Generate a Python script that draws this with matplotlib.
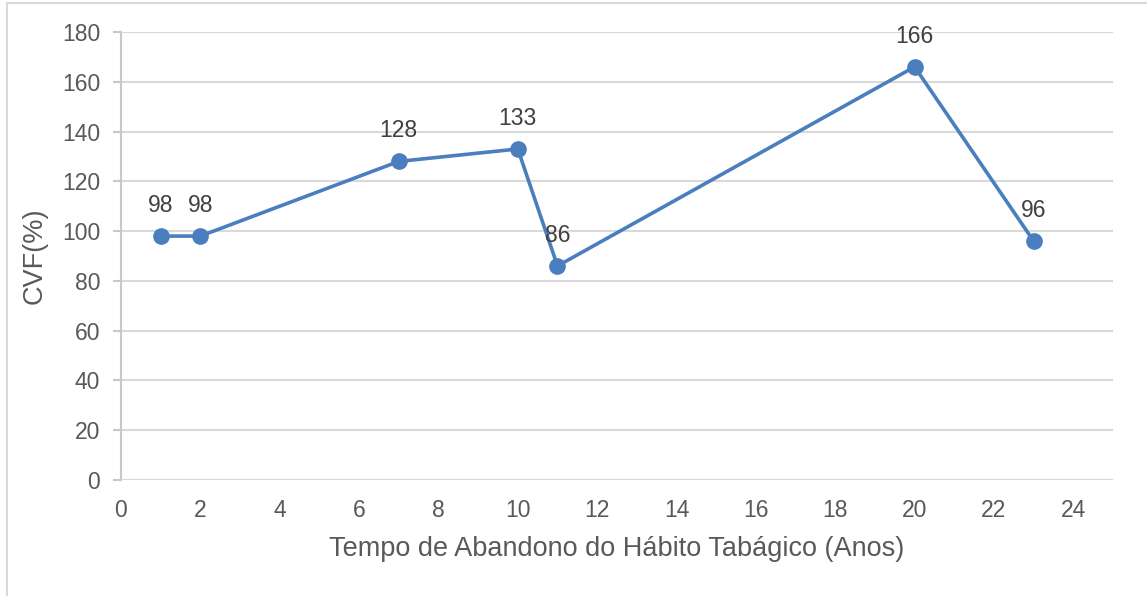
import matplotlib.pyplot as plt
from matplotlib.patches import Rectangle

# dados
anos = [1, 2, 7, 10, 11, 20, 23]
cvf = [98, 98, 128, 133, 86, 166, 96]
x_ticks = list(range(0, 25, 2))
y_ticks = list(range(0, 181, 20))

plt.rcParams['font.family'] = ['Liberation Sans', 'DejaVu Sans']

fig = plt.figure(figsize=(11.47, 5.96), dpi=100)
ax = fig.add_axes([121 / 1147, 116 / 596, 992 / 1147, 448 / 596])

# moldura do gráfico
fig.patches.append(Rectangle((7 / 1147, -0.1), 1.2, 1.1 - 3 / 596, transform=fig.transFigure,
                             fill=False, edgecolor='#D9D9D9', linewidth=1.5, zorder=0))

ax.plot(anos, cvf, color='#4A7EBF', linewidth=2.6, marker='o', markersize=11, zorder=3)

for x, y in zip(anos, cvf):
    ax.annotate(str(y), (x, y), xytext=(0, 22), textcoords='offset points',
                ha='center', va='center', fontsize=16.5, color='#404040')

ax.set_xlim(0, 25)
ax.set_ylim(0, 180)
ax.set_xticks(x_ticks)
ax.set_yticks(y_ticks)
ax.yaxis.grid(True, color='#D9D9D9', linewidth=1.5)
ax.set_axisbelow(True)

for s in ['top', 'right', 'bottom']:
    ax.spines[s].set_visible(False)
ax.spines['left'].set_color('#C8C8C8')
ax.spines['left'].set_linewidth(1.5)

ax.tick_params(axis='y', length=6, width=1.5, color='#C8C8C8', labelsize=16.5,
               labelcolor='#595959', pad=9)
ax.tick_params(axis='x', length=0, labelsize=16.5, labelcolor='#595959', pad=14)

ax.set_xlabel('Tempo de Abandono do Hábito Tabágico (Anos)', fontsize=19.5, color='#595959', labelpad=10)
ax.set_ylabel('CVF(%)', fontsize=19.5, color='#595959', labelpad=10)

fig.savefig('out.png', dpi=100)
